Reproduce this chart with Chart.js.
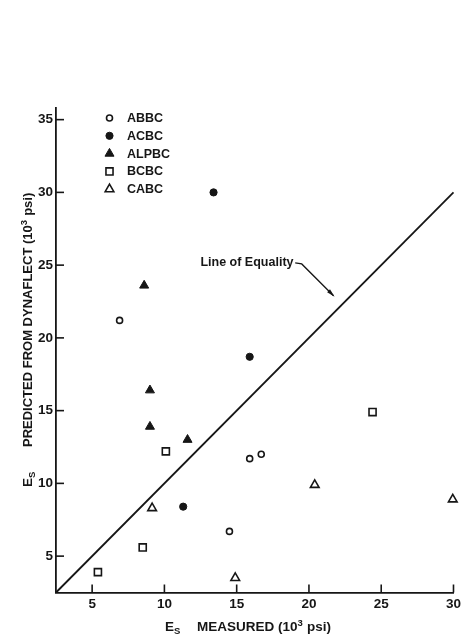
<!DOCTYPE html>
<html><head><meta charset="utf-8">
<script src="https://cdn.jsdelivr.net/npm/chart.js@4/dist/chart.umd.min.js"></script>
<style>html,body{margin:0;padding:0;background:#fff}#wrap{width:465px;height:636px}</style>
</head><body><div id="wrap"><canvas id="c" width="465" height="636"></canvas></div>
<script>
// ---- data (10^3 psi) ----
const seriesNames = ['ABBC', 'ACBC', 'ALPBC', 'BCBC', 'CABC'];
const abbcX = [6.9, 14.5, 15.9, 16.7];
const abbcY = [21.2, 6.7, 11.7, 12.0];
const acbcX = [13.4, 15.9, 11.3];
const acbcY = [30.0, 18.7, 8.4];
const alpbcX = [8.6, 9.0, 9.0, 11.6];
const alpbcY = [23.6, 16.4, 13.9, 13.0];
const bcbcX = [10.1, 8.5, 5.4, 24.4];
const bcbcY = [12.2, 5.6, 3.9, 14.9];
const cabcX = [9.15, 14.9, 20.4, 29.95];
const cabcY = [8.3, 3.5, 9.9, 8.9];
const equalityX = [2.5, 30];
const xTickValues = [5, 10, 15, 20, 25, 30];
const yTickValues = [5, 10, 15, 20, 25, 30, 35];
const xRange = [2.5, 30];
const yRange = [2.5, 35.8];

const INK = '#161616';
const FONT = '"Liberation Sans", Arial, sans-serif';

function pts(xs, ys) { return xs.map((x, i) => ({ x: x, y: ys[i] })); }

const markerStyles = [
  { pointStyle: 'circle', radius: 3, fill: '#ffffff', bw: 1.6 },
  { pointStyle: 'circle', radius: 3.6, fill: INK, bw: 1 },
  { pointStyle: 'triangle', radius: 5.2, fill: INK, bw: 1 },
  { pointStyle: 'rect', radius: 5, fill: '#ffffff', bw: 1.6 },
  { pointStyle: 'triangle', radius: 5, fill: '#ffffff', bw: 1.6 }
];
const seriesData = [pts(abbcX, abbcY), pts(acbcX, acbcY), pts(alpbcX, alpbcY), pts(bcbcX, bcbcY), pts(cabcX, cabcY)];

const datasets = seriesNames.map((name, i) => ({
  type: 'scatter',
  label: name,
  data: seriesData[i],
  pointStyle: markerStyles[i].pointStyle,
  pointRadius: markerStyles[i].radius,
  pointHoverRadius: markerStyles[i].radius,
  pointBackgroundColor: markerStyles[i].fill,
  pointBorderColor: INK,
  pointBorderWidth: markerStyles[i].bw,
  clip: false
}));
datasets.push({
  type: 'line',
  label: 'Line of Equality',
  data: pts(equalityX, equalityX),
  borderColor: INK,
  borderWidth: 1.8,
  pointRadius: 0,
  fill: false,
  clip: false
});

// draw a run of text pieces (font, vertical shift) left to right
function drawRun(ctx, parts, x, y) {
  let cx = x;
  parts.forEach(p => {
    ctx.font = p.font;
    ctx.fillText(p.t, cx, y + (p.dy || 0));
    cx += ctx.measureText(p.t).width + (p.gap || 0);
  });
}

// ---- custom drawing ----
const decor = {
  id: 'decor',
  afterDraw(chart) {
    const ctx = chart.ctx;
    const xs = chart.scales.x, ys = chart.scales.y;
    const ca = chart.chartArea;
    ctx.save();
    ctx.strokeStyle = INK;
    ctx.fillStyle = INK;
    ctx.lineWidth = 1.6;
    // inward tick marks
    xs.ticks.forEach(t => {
      const px = xs.getPixelForValue(t.value);
      ctx.beginPath(); ctx.moveTo(px, ca.bottom); ctx.lineTo(px, ca.bottom - 8); ctx.stroke();
    });
    ys.ticks.forEach(t => {
      const py = ys.getPixelForValue(t.value);
      ctx.beginPath(); ctx.moveTo(ca.left, py); ctx.lineTo(ca.left + 8, py); ctx.stroke();
    });

    // legend
    ctx.textBaseline = 'middle';
    ctx.textAlign = 'left';
    seriesNames.forEach((name, i) => {
      const cy = ca.top + 10 + i * 17.8;
      const cx = ca.left + 53.5;
      const m = markerStyles[i];
      ctx.fillStyle = m.fill;
      ctx.strokeStyle = INK;
      ctx.lineWidth = m.bw;
      Chart.helpers.drawPoint(ctx, { pointStyle: m.pointStyle, radius: m.radius, borderWidth: m.bw, rotation: 0 }, cx, cy);
      ctx.fillStyle = INK;
      ctx.font = 'bold 12.5px ' + FONT;
      ctx.fillText(name, ca.left + 71, cy + 0.5);
    });

    // "Line of Equality" label with arrow
    ctx.font = 'bold 12.5px ' + FONT;
    ctx.fillStyle = INK;
    ctx.textAlign = 'right';
    const lx = xs.getPixelForValue(19.0), ly = ys.getPixelForValue(25.15);
    ctx.fillText('Line of Equality', lx - 1, ly);
    const a1 = [xs.getPixelForValue(19.05), ly];
    const a2 = [xs.getPixelForValue(19.5), ly + 1];
    const a3 = [xs.getPixelForValue(21.7), ys.getPixelForValue(22.9)];
    ctx.strokeStyle = INK; ctx.lineWidth = 1.3;
    ctx.beginPath(); ctx.moveTo(a1[0], a1[1]); ctx.lineTo(a2[0], a2[1]); ctx.lineTo(a3[0], a3[1]); ctx.stroke();
    const ang = Math.atan2(a3[1] - a2[1], a3[0] - a2[0]);
    ctx.beginPath();
    ctx.moveTo(a3[0] + 1.5 * Math.cos(ang), a3[1] + 1.5 * Math.sin(ang));
    ctx.lineTo(a3[0] - 7 * Math.cos(ang) + 2 * Math.sin(ang), a3[1] - 7 * Math.sin(ang) - 2 * Math.cos(ang));
    ctx.lineTo(a3[0] - 7 * Math.cos(ang) - 2 * Math.sin(ang), a3[1] - 7 * Math.sin(ang) + 2 * Math.cos(ang));
    ctx.closePath(); ctx.fill();

    // x-axis title
    ctx.textAlign = 'left';
    ctx.textBaseline = 'alphabetic';
    ctx.fillStyle = INK;
    const F13 = 'bold 13.5px ' + FONT, FS = 'bold 9.5px ' + FONT;
    drawRun(ctx, [{ t: 'E', font: F13 }, { t: 'S', font: FS, dy: 3 }], 165, 631);
    drawRun(ctx, [{ t: 'MEASURED (10', font: F13 }, { t: '3', font: FS, dy: -5.5, gap: 0.5 }, { t: ' psi)', font: F13 }], 197, 631);

    // y-axis title (rotated)
    ctx.save();
    ctx.translate(32, 487);
    ctx.rotate(-Math.PI / 2);
    const Fy = 'bold 13px ' + FONT;
    drawRun(ctx, [{ t: 'E', font: 'bold 13.5px ' + FONT }, { t: 'S', font: FS, dy: 3 }], 0, 0);
    drawRun(ctx, [{ t: 'PREDICTED FROM DYNAFLECT (10', font: Fy }, { t: '3', font: FS, dy: -5.5, gap: 0.5 }, { t: ' psi)', font: Fy }], 40, 0);
    ctx.restore();

    ctx.restore();
  }
};

new Chart(document.getElementById('c'), {
  data: { datasets: datasets },
  options: {
    responsive: false,
    devicePixelRatio: 1,
    animation: false,
    events: [],
    layout: { padding: { left: 0, top: 108, right: 9, bottom: 0 } },
    plugins: { legend: { display: false }, tooltip: { enabled: false }, title: { display: false } },
    scales: {
      x: {
        type: 'linear', min: xRange[0], max: xRange[1],
        afterBuildTicks: s => { s.ticks = xTickValues.map(v => ({ value: v })); },
        afterFit: s => { s.height = 43.5; },
        grid: { display: false, drawTicks: false },
        border: { display: true, color: INK, width: 1.8 },
        ticks: { padding: 4, color: INK, font: { family: FONT, size: 13.5, weight: 'bold' }, maxRotation: 0, autoSkip: false, callback: v => String(v) }
      },
      y: {
        type: 'linear', min: yRange[0], max: yRange[1],
        afterBuildTicks: s => { s.ticks = yTickValues.map(v => ({ value: v })); },
        afterFit: s => { s.width = 56; },
        grid: { display: false, drawTicks: false },
        border: { display: true, color: INK, width: 1.8 },
        ticks: { padding: 3, color: INK, font: { family: FONT, size: 13.5, weight: 'bold' }, autoSkip: false, callback: v => String(v) }
      }
    }
  },
  plugins: [decor]
});
</script>
</body></html>
